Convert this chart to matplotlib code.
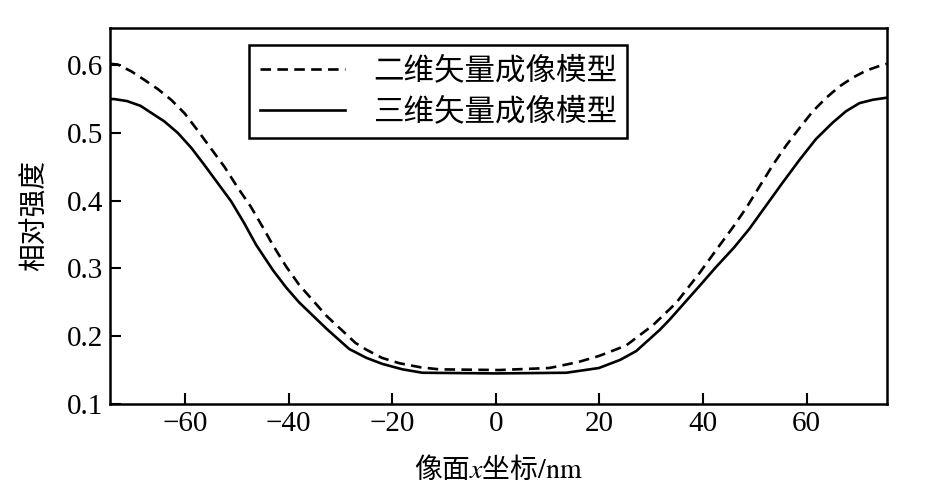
import numpy as np
import matplotlib
matplotlib.use("Agg")
import matplotlib.pyplot as plt

plt.rcParams['font.family'] = ['Liberation Serif', 'Noto Sans CJK SC', 'DejaVu Sans']
plt.rcParams['mathtext.fontset'] = 'stix'

# 二维矢量成像模型 (dashed)
x2d = [-74.5, -73.0, -70.4, -67.8, -65.3, -62.7, -60.1, -57.6, -55.0, -52.4, -49.9,
       -47.3, -44.7, -43.1, -40.5, -38.0, -32.7, -27.1, -25.0, -22.0, -18.6, -14.5,
       -10.9, 0.7, 10.3, 12.3, 16.0, 20.0, 25.1, 30.3, 34.8, 39.3, 42.8, 45.7, 48.4,
       50.9, 53.5, 56.1, 58.7, 61.2, 63.8, 66.4, 69.0, 71.5, 74.1, 75.5]
y2d = [0.602, 0.601, 0.591, 0.578, 0.565, 0.549, 0.529, 0.504, 0.477, 0.450, 0.420,
       0.391, 0.357, 0.335, 0.303, 0.276, 0.230, 0.190, 0.180, 0.168, 0.160, 0.154,
       0.151, 0.150, 0.153, 0.156, 0.162, 0.171, 0.186, 0.216, 0.249, 0.293, 0.330,
       0.360, 0.390, 0.421, 0.453, 0.482, 0.508, 0.532, 0.552, 0.569, 0.582, 0.592,
       0.599, 0.602]

# 三维矢量成像模型 (solid)
x3d = [-74.5, -73.7, -71.2, -68.6, -66.6, -64.0, -61.4, -58.8, -56.3, -53.7, -51.1,
       -48.6, -46.3, -43.0, -40.5, -38.0, -32.7, -28.3, -25.0, -21.9, -18.0, -14.2,
       0.1, 13.6, 19.9, 24.0, 27.1, 31.6, 33.5, 39.3, 42.5, 46.0, 48.9, 52.1, 55.3,
       58.6, 61.8, 65.0, 67.6, 70.2, 72.8, 75.5]
y3d = [0.550, 0.550, 0.547, 0.540, 0.530, 0.517, 0.500, 0.478, 0.453, 0.426, 0.399,
       0.367, 0.335, 0.297, 0.272, 0.250, 0.211, 0.181, 0.168, 0.159, 0.151, 0.146,
       0.145, 0.146, 0.153, 0.165, 0.178, 0.209, 0.224, 0.274, 0.302, 0.331, 0.358,
       0.392, 0.426, 0.460, 0.491, 0.515, 0.532, 0.544, 0.549, 0.552]

xticks = [-60, -40, -20, 0, 20, 40, 60]
yticks = [0.1, 0.2, 0.3, 0.4, 0.5, 0.6]

fig = plt.figure(figsize=(9.35, 5.03), dpi=100)
ax = fig.add_axes([0.1176, 0.197, 0.8310, 0.7475])

ax.plot(x2d, y2d, color='black', linewidth=1.9, linestyle=(0, (4, 2.4)),
        label='二维矢量成像模型')
ax.plot(x3d, y3d, color='black', linewidth=1.9, label='三维矢量成像模型')

ax.set_xlim(-74.5, 75.5)
ax.set_ylim(0.1, 0.655)
ax.set_xticks(xticks)
ax.set_yticks(yticks)
ax.set_xticklabels(['\u2212' + str(-t) if t < 0 else str(t) for t in xticks])
ax.set_yticklabels([f'{t:.1f}' for t in yticks])
ax.tick_params(direction='in', length=8, width=1.5, labelsize=21, pad=5)
ax.tick_params(top=False, right=False)
for s in ax.spines.values():
    s.set_linewidth(1.8)

ax.set_xlabel('像面$x$坐标$\\mathrm{/nm}$', fontsize=20, family='Noto Sans CJK SC',
              labelpad=13)
ax.set_ylabel('相对强度', fontsize=20, family=['Noto Sans CJK SC'], fontweight='medium',
              labelpad=12)

leg = ax.legend(loc='upper left', bbox_to_anchor=(0.179, 0.955), borderaxespad=0,
                prop={'family': 'Noto Sans CJK SC', 'size': 22},
                handlelength=2.8, handletextpad=0.9, borderpad=0.35,
                labelspacing=0.32, fancybox=False, framealpha=1, edgecolor='black')
leg.get_frame().set_linewidth(1.8)

fig.savefig('out.png', dpi=100)
